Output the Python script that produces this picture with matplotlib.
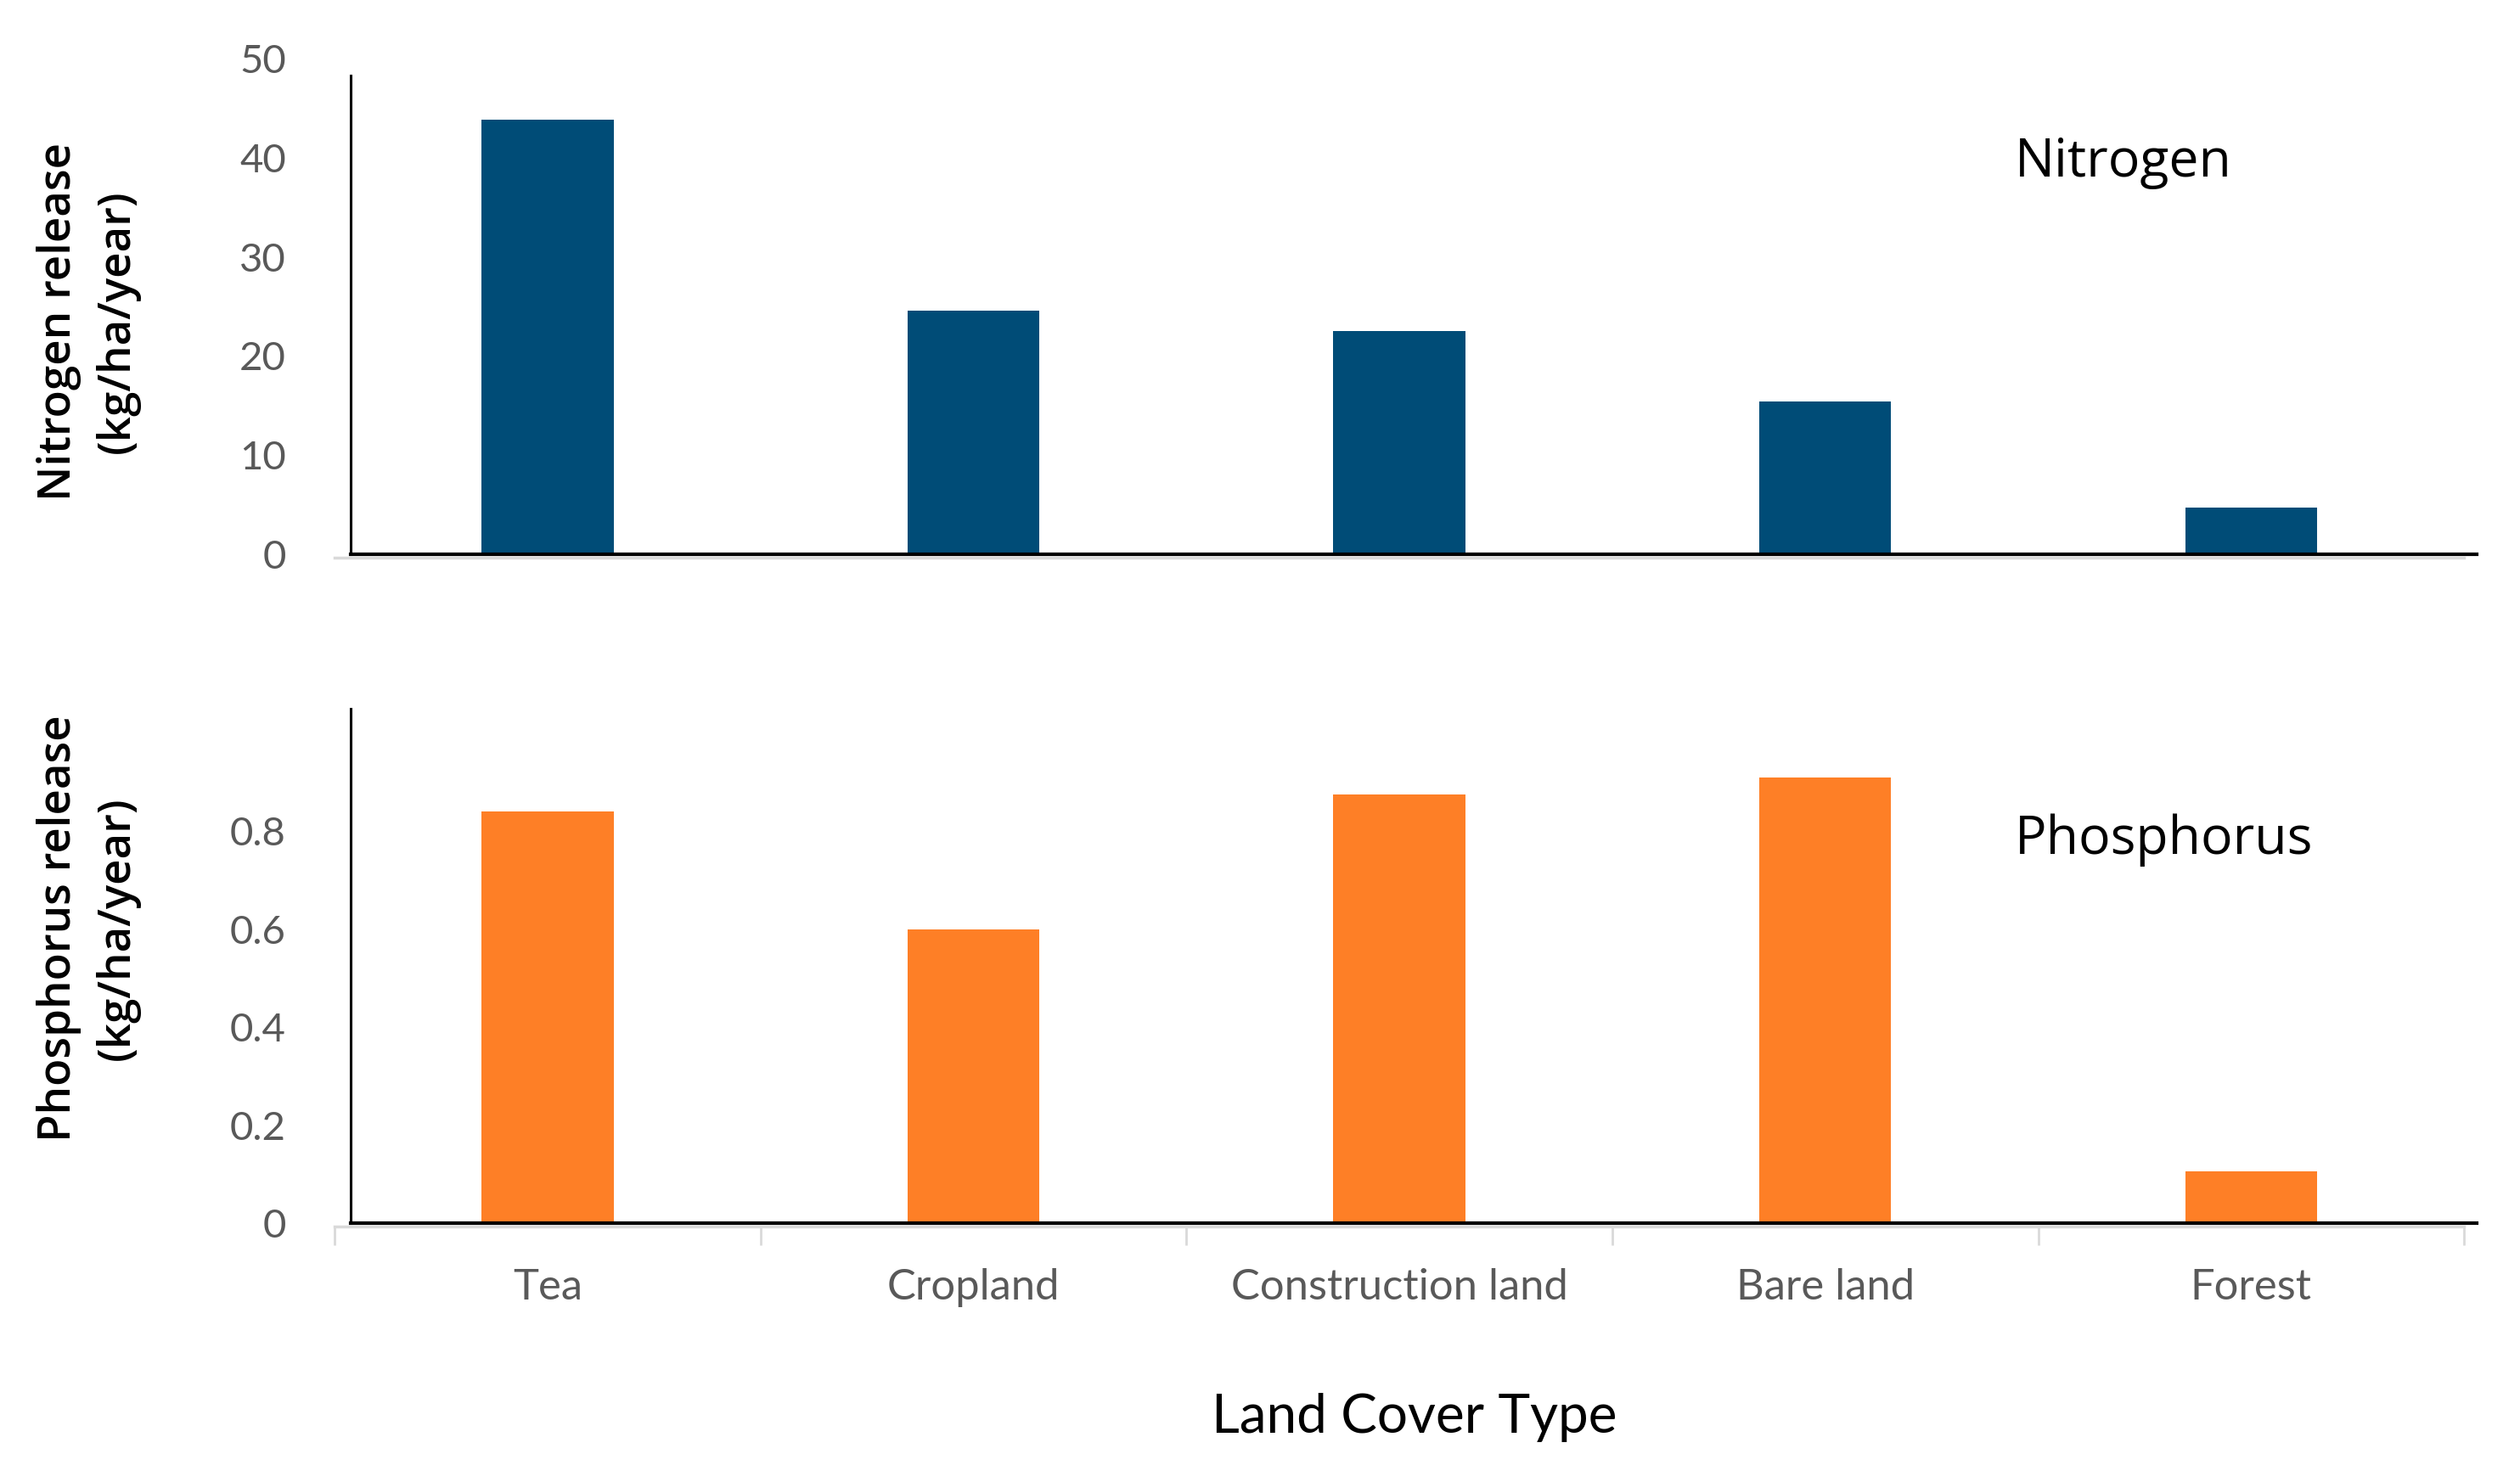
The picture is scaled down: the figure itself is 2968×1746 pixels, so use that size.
import matplotlib
matplotlib.use('Agg')
import matplotlib.pyplot as plt
import numpy as np

# values
categories = ['Tea', 'Cropland', 'Construction land', 'Bare land', 'Forest']
nitrogen = [43.8, 24.6, 22.5, 15.4, 4.7]
phosphorus = [0.84, 0.60, 0.875, 0.91, 0.105]
n_ticks = [0, 10, 20, 30, 40, 50]
p_ticks = [0, 0.2, 0.4, 0.6, 0.8]
p_tick_labels = ['0', '0.2', '0.4', '0.6', '0.8']

navy = '#004c77'
orange = '#fe7f26'
grey_txt = '#595959'

plt.rcParams['font.family'] = ['Lato', 'DejaVu Sans']

fig = plt.figure(figsize=(29.68, 17.46), dpi=100)
fig.patch.set_facecolor('white')

x = np.arange(len(categories))
spine_x = -0.462


def style_axis(ax, top_spine):
  ax.set_xlim(-0.5, 4.5)
  for s in ['top', 'right']:
    ax.spines[s].set_visible(False)
  ax.spines['left'].set_position(('data', spine_x))
  ax.spines['left'].set_color('black')
  ax.spines['left'].set_linewidth(2.2)
  ax.spines['left'].set_bounds(0, top_spine)
  ax.spines['bottom'].set_color('#d9d9d9')
  ax.spines['bottom'].set_linewidth(2.5)
  ax.spines['bottom'].set_position(('outward', 3))
  ax.tick_params(axis='y', length=0, pad=55, labelsize=34, labelcolor=grey_txt)
  # black baseline at zero
  ax.axhline(0, xmin=0.0076, xmax=1.006, color='black', lw=3, clip_on=False, zorder=4)


# top panel: nitrogen
ax1 = fig.add_axes([0.1328, 0.626, 0.845, 0.3345])
ax1.bar(x, nitrogen, width=0.31, color=navy, zorder=3)
ax1.set_ylim(0, 50)
ax1.set_yticks(n_ticks)
ax1.set_xticks([])
style_axis(ax1, 48.3)
ax1.text(0.789, 0.79, 'Nitrogen', transform=ax1.transAxes, fontsize=45,
         family='Open Sans', ha='left', va='center', color='black')

# bottom panel: phosphorus
ax2 = fig.add_axes([0.1328, 0.1747, 0.845, 0.347])
ax2.bar(x, phosphorus, width=0.31, color=orange, zorder=3)
ax2.set_ylim(0, 1.05)
ax2.set_yticks(p_ticks)
ax2.set_yticklabels(p_tick_labels)
ax2.set_xticks(x)
ax2.set_xticklabels(categories)
ax2.set_xticks(np.arange(-0.5, 5, 1), minor=True)
ax2.tick_params(axis='x', which='major', length=0, pad=35, labelsize=36.5, labelcolor=grey_txt)
ax2.tick_params(axis='x', which='minor', length=16, width=2, color='#d9d9d9')
style_axis(ax2, 1.05)
ax2.text(0.789, 0.745, 'Phosphorus', transform=ax2.transAxes, fontsize=45,
         family='Open Sans', ha='left', va='center', color='black')

# axis titles
fig.text(0.035, 1 - 379 / 1746, 'Nitrogen release\n(kg/ha/year)', rotation=90,
         ha='center', va='center', multialignment='center', fontsize=38,
         family='Open Sans', fontweight='semibold', linespacing=1.4)
fig.text(0.035, 1 - 1094 / 1746, 'Phosphorus release\n(kg/ha/year)', rotation=90,
         ha='center', va='center', multialignment='center', fontsize=38,
         family='Open Sans', fontweight='semibold', linespacing=1.4)
fig.text(1666 / 2968, 1 - 1670 / 1746, 'Land Cover Type', ha='center', va='center',
         fontsize=46, family='Lato', color='black')

fig.savefig('out.png', dpi=100, facecolor='white')
